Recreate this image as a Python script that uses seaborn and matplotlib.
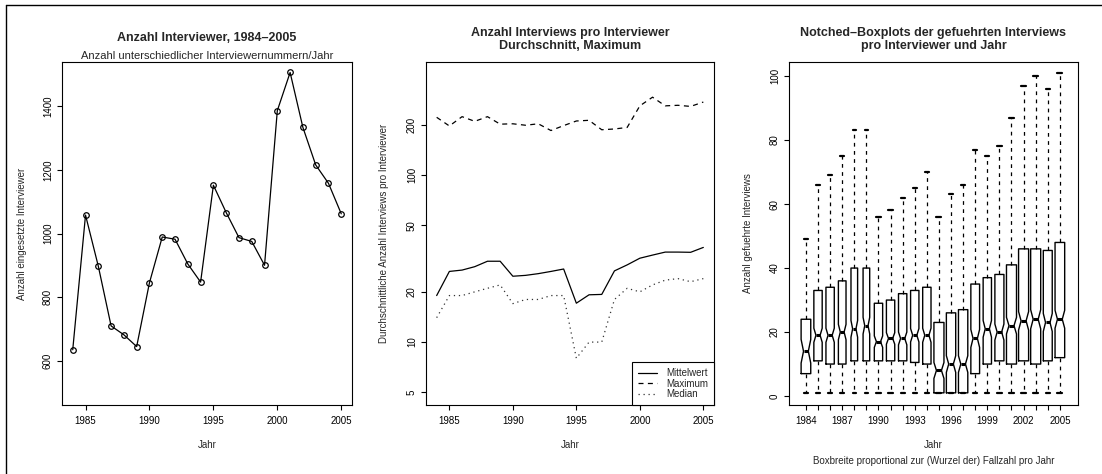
import matplotlib
matplotlib.use("Agg")
import numpy as np
import pandas as pd
import matplotlib.pyplot as plt
from matplotlib.lines import Line2D
from matplotlib.ticker import NullLocator
import seaborn as sns

# ---- data ----
jahre = list(range(1984, 2006))
anzahl_interviewer = [634, 1058, 897, 709, 681, 644, 845, 989, 982, 904, 847,
                      1152, 1066, 987, 975, 900, 1387, 1507, 1334, 1216, 1158, 1062]

mittelwert = [19.0, 26.5, 27.0, 28.3, 30.5, 30.5, 24.8, 25.1, 25.7, 26.5, 27.4,
              17.1, 19.2, 19.3, 26.7, 29.0, 31.8, 33.2, 34.6, 34.6, 34.5, 36.9]
maximum = [222, 197, 224, 210, 224, 202, 203, 199, 203, 185, 198,
           211, 213, 187, 189, 193, 260, 293, 260, 262, 258, 274]
median = [14, 19, 19, 20, 21, 22, 17, 18, 18, 19, 19,
          8, 10, 10, 18, 21, 20, 22, 23.5, 24, 23, 24]

# boxplot summaries per year
box_q1 = [7, 11, 10, 10, 11, 11, 11, 11, 11, 10.5, 10,
          1, 1, 1, 7, 10, 11, 10, 11, 10, 11, 12]
box_q3 = [24, 33, 34, 36, 40, 40, 29, 30, 32, 33, 34,
          23, 26, 27, 35, 37, 38, 41, 46, 46, 45.5, 48]
box_whi_hi = [49, 66, 69, 75, 83, 83, 56, 58, 62, 65, 70,
              56, 63, 66, 77, 75, 78, 87, 97, 100, 96, 101]
box_whi_lo = [1] * 22
notch_halb = [3.7, 2.2, 2.2, 2.4, 2.6, 2.6, 1.8, 1.8, 2.0, 2.1, 2.2,
              2.5, 2.6, 2.6, 2.8, 2.6, 2.5, 2.6, 2.9, 3.0, 2.8, 2.8]
# relative box width (proportional to sqrt of case count)
boxbreite = [0.96, 0.83, 0.83, 0.76, 0.66, 0.66, 0.83, 0.83, 0.83, 0.83, 0.83,
             1.0, 0.93, 0.93, 0.87, 0.83, 0.90, 1.0, 1.0, 1.0, 0.89, 0.96]

sns.set_theme(style="ticks")
plt.rcParams['font.family'] = ['Liberation Sans', 'DejaVu Sans']
plt.rcParams['axes.linewidth'] = 0.8
plt.rcParams['axes.edgecolor'] = 'black'

W, H = 1102, 474
fig = plt.figure(figsize=(W / 100, H / 100), dpi=100)


def add_ax(l, r, t, b):
    return fig.add_axes([l / W, 1 - b / H, (r - l) / W, (b - t) / H])


ax1 = add_ax(62, 352, 62, 405)
ax2 = add_ax(426, 714, 62, 405)
ax3 = add_ax(789, 1078, 62, 405)


def r_look(ax, ylab_off):
    for s in ax.spines.values():
        s.set_visible(True)
        s.set_color('black')
        s.set_linewidth(0.8)
    ax.tick_params(direction='out', length=3.6, width=0.8, pad=4,
                   labelsize=7, colors='black')
    ax.tick_params(axis='y', labelrotation=90, pad=3)
    plt.setp(ax.get_yticklabels(), va='center')
    ax.xaxis.label.set_fontsize(7)
    ax.yaxis.label.set_fontsize(7)
    ax.xaxis.set_label_coords(0.5, -40 / 343)
    ax.xaxis.label.set_va('center')
    w = ax.get_position().width * W
    ax.yaxis.set_label_coords(-ylab_off / w, 0.5)
    ax.yaxis.label.set_va('center')


# ---- panel 1 ----
df1 = pd.DataFrame({'Jahr': jahre, 'Anzahl': anzahl_interviewer})
sns.lineplot(data=df1, x='Jahr', y='Anzahl', ax=ax1, color='black', lw=0.9,
             marker='o', markersize=4, markerfacecolor='none',
             markeredgecolor='black', markeredgewidth=0.9)
ax1.set_xlim(1983.16, 2005.84)
ax1.set_ylim(460, 1540)
ax1.set_xticks([1985, 1990, 1995, 2000, 2005])
ax1.set_yticks([600, 800, 1000, 1200, 1400])
ax1.set_xlabel("Jahr")
ax1.set_ylabel("Anzahl eingesetzte Interviewer")
r_look(ax1, 40)
ax1.text(0.5, 1 + 24 / 343, "Anzahl Interviewer, 1984\u20132005", transform=ax1.transAxes,
         ha='center', va='center', fontsize=9, fontweight='bold')
ax1.text(0.5, 1 + 6 / 343, "Anzahl unterschiedlicher Interviewernummern/Jahr",
         transform=ax1.transAxes, ha='center', va='center', fontsize=8)

# ---- panel 2 ----
df2 = pd.DataFrame({'Jahr': jahre, 'Mittelwert': mittelwert,
                    'Maximum': maximum, 'Median': median})
sns.lineplot(data=df2, x='Jahr', y='Mittelwert', ax=ax2, color='black', lw=0.9)
sns.lineplot(data=df2, x='Jahr', y='Maximum', ax=ax2, color='black', lw=0.9,
             linestyle=(0, (4, 3.5)))
sns.lineplot(data=df2, x='Jahr', y='Median', ax=ax2, color='#333333', lw=0.9,
             linestyle=(0, (1, 3)))
ax2.set_yscale('log')
ax2.set_xlim(1983.16, 2005.84)
ax2.set_ylim(4.2, 476)
ax2.set_yticks([5, 10, 20, 50, 100, 200])
ax2.set_yticklabels(['5', '10', '20', '50', '100', '200'])
ax2.yaxis.set_minor_locator(NullLocator())
ax2.set_xticks([1985, 1990, 1995, 2000, 2005])
ax2.set_xlabel("Jahr")
ax2.set_ylabel("Durchschnittliche Anzahl Interviews pro Interviewer")
r_look(ax2, 42)
ax2.text(0.5, 1 + 22.5 / 343, "Anzahl Interviews pro Interviewer\nDurchschnitt, Maximum",
         transform=ax2.transAxes, ha='center', va='center', fontsize=9,
         fontweight='bold', linespacing=1.05)
handles = [Line2D([], [], color='black', lw=0.9),
           Line2D([], [], color='black', lw=0.9, linestyle=(0, (4, 3.5))),
           Line2D([], [], color='#333333', lw=0.9, linestyle=(0, (1, 3)))]
leg = ax2.legend(handles, ['Mittelwert', 'Maximum', 'Median'], loc='lower right',
                 borderaxespad=0, fontsize=7, frameon=True, fancybox=False,
                 edgecolor='black', framealpha=1, handlelength=2.0,
                 handletextpad=0.9, labelspacing=0.05, borderpad=0.6)
leg.get_frame().set_linewidth(0.8)

# ---- panel 3 ----
pos = np.arange(len(jahre))
stats = []
for i in range(len(jahre)):
    stats.append(dict(med=median[i], q1=box_q1[i], q3=box_q3[i],
                      whislo=box_whi_lo[i], whishi=box_whi_hi[i],
                      cilo=median[i] - notch_halb[i], cihi=median[i] + notch_halb[i],
                      fliers=[]))
widths = [0.83 * b for b in boxbreite]
ax3.bxp(stats, positions=pos, widths=widths, shownotches=True, showfliers=False,
        capwidths=[0.5 * w for w in widths],
        boxprops=dict(color='black', lw=1.0),
        whiskerprops=dict(color='black', lw=0.9, linestyle=(0, (3, 3.5))),
        capprops=dict(color='black', lw=1.6),
        medianprops=dict(color='black', lw=2.2, solid_capstyle='butt'))
ax3.set_xlim(-1.4, 22.5)
ax3.set_ylim(-2.8, 104.4)
ax3.set_xticks(pos)
ax3.set_xticklabels([str(j) if (j - 1984) % 3 == 0 else '' for j in jahre])
ax3.set_yticks([0, 20, 40, 60, 80, 100])
ax3.set_xlabel("Jahr")
ax3.set_ylabel("Anzahl gefuehrte Interviews")
r_look(ax3, 41)
ax3.text(0.5, -56 / 343, "Boxbreite proportional zur (Wurzel der) Fallzahl pro Jahr",
         transform=ax3.transAxes, ha='center', va='center', fontsize=7)
ax3.text(0.5, 1 + 22.5 / 343, "Notched\u2013Boxplots der gefuehrten Interviews\npro Interviewer und Jahr",
         transform=ax3.transAxes, ha='center', va='center', fontsize=9,
         fontweight='bold', linespacing=1.05)

# outer frame (left and top edge)
fig.add_artist(Line2D([5.5 / W, 5.5 / W], [0, 1 - 4.5 / H], transform=fig.transFigure,
                      color='black', lw=1.0))
fig.add_artist(Line2D([5.5 / W, 1], [1 - 4.5 / H, 1 - 4.5 / H], transform=fig.transFigure,
                      color='black', lw=1.0))

fig.savefig("out.png", dpi=100, facecolor='white')
